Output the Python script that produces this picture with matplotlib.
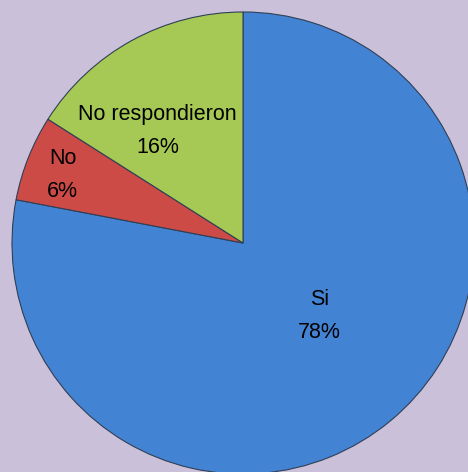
import matplotlib
matplotlib.use("Agg")
import matplotlib.pyplot as plt

categorias = ["Si", "No", "No respondieron"]
porcentajes = [78, 6, 16]
colores = ["#4383D3", "#CD4B47", "#A6C955"]
# label positions (data units, pie radius = 1)
pos_labels = [(0.33, -0.315), (-0.78, 0.295), (-0.37, 0.485)]

fig = plt.figure(figsize=(4.68, 4.72), dpi=100)
fig.patch.set_facecolor("#CBC0DA")
ax = fig.add_axes([0, 0, 1, 1])
ax.set_facecolor("#CBC0DA")

wedges, _ = ax.pie(porcentajes, colors=colores, startangle=90, counterclock=False,
                   radius=1, center=(0, 0),
                   wedgeprops=dict(edgecolor="#2f3f55", linewidth=0.8))

for cat, pct, (x, y) in zip(categorias, porcentajes, pos_labels):
    ax.text(x, y, f"{cat}\n{pct}%", ha="center", va="center",
            fontsize=15.5, family="Liberation Sans", color="black", linespacing=1.75)

r = 231.0
ax.set_xlim(-243 / r, (468 - 243) / r)
ax.set_ylim(-(472 - 243) / r, 243 / r)
ax.set_aspect("equal")
ax.axis("off")

fig.savefig("out.png", dpi=100, facecolor=fig.get_facecolor())
